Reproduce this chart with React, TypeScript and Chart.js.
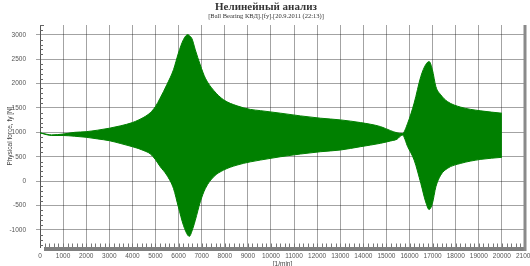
import { useEffect, useRef } from "react";
import { Chart, registerables } from "chart.js";
Chart.register(...registerables);

const TITLE = "Нелинейный анализ";
const SUBTITLE = "[Ball Bearing КВД].[fy].[20.9.2011 (22:13)]";
const Y_TITLE = "Physical force, fy [N]";
const X_TITLE = "[1/min]";

// rotor speed [1/min]
const rpm = [
  0, 300, 500, 1000, 1500, 2000, 2500, 3000, 3500, 4000, 4250, 4500, 4770, 5000, 5200, 5490, 5780, 5990,
  6210, 6400, 6470, 6580, 6725, 6940, 7160, 7520, 7950, 8530, 9110, 9540, 10410, 11280, 12150,
  13010, 13880, 14750, 15180, 15460, 15690, 15920, 16200, 16490, 16700, 16850, 16990, 17140,
  17350, 17640, 18220, 19090, 20000,
];
// upper envelope of fy [N]
const upper = [
  990, 960, 948, 965, 1000, 1014, 1045, 1084, 1135, 1200, 1250, 1310, 1400, 1530, 1700, 1975, 2284, 2620,
  2900, 3004, 2980, 2920, 2690, 2380, 2110, 1860, 1667, 1543, 1470, 1445, 1393, 1337, 1290,
  1255, 1200, 1117, 1035, 990, 975, 1187, 1599, 2146, 2387, 2450, 2284, 1940,
  1770, 1632, 1516, 1440, 1393,
];
// lower envelope of fy [N]
const lower = [
  990, 950, 935, 935, 920, 899, 865, 829, 770, 706, 670, 625, 560, 440, 300, 123, -151, -528,
  -905, -1111, -1132, -1022, -802, -425, -151, 89, 226, 329, 395, 432, 500, 556, 603,
  638, 706, 776, 823, 860, 945, 706, 432, -47, -426, -582, -459, -117,
  123, 261, 364, 446, 488,
];

const xTicks = [0, 1000, 2000, 3000, 4000, 5000, 6000, 7000, 8000, 9000, 10000, 11000, 12000, 13000, 14000, 15000, 16000, 17000, 18000, 19000, 20000, 21000];
const yTicks = [-1000, -500, 0, 500, 1000, 1500, 2000, 2500, 3000];

const GREEN = "rgb(0,128,0)";

const decor = {
  id: "decor",
  afterDraw(chart: any) {
    const { ctx, chartArea } = chart;
    const x = chart.scales.x;
    const y = chart.scales.y;
    ctx.save();
    // titles
    ctx.fillStyle = "#333";
    ctx.textAlign = "center";
    ctx.textBaseline = "middle";
    ctx.font = 'bold 11px "Liberation Serif"';
    ctx.fillText(TITLE, 266, 7);
    ctx.font = '6.5px "Liberation Serif"';
    ctx.fillText(SUBTITLE, 266, 16);

    // y minor ticks
    ctx.strokeStyle = "#666";
    ctx.lineWidth = 1;
    ctx.beginPath();
    for (let v = -1300; v <= 3200; v += 100) {
      if (v % 500 === 0) continue;
      const py = Math.round(y.getPixelForValue(v)) + 0.5;
      ctx.moveTo(chartArea.left, py);
      ctx.lineTo(chartArea.left + 3, py);
    }
    ctx.moveTo(chartArea.left, chartArea.top + 0.5);
    ctx.lineTo(chartArea.left + 4, chartArea.top + 0.5);
    ctx.stroke();

    // bottom band with hatch ticks
    ctx.fillStyle = "#7f7f7f";
    ctx.fillRect(chartArea.left + 4, chartArea.bottom, chartArea.right - chartArea.left - 4, 4);
    ctx.strokeStyle = "#777";
    ctx.beginPath();
    for (let v = 200; v < 21000; v += 200) {
      const px = Math.round(x.getPixelForValue(v)) + 0.5;
      ctx.moveTo(px, chartArea.bottom - 3.5);
      ctx.lineTo(px, chartArea.bottom);
    }
    ctx.stroke();

    // right bar
    ctx.fillStyle = "#8a8a8a";
    ctx.fillRect(chartArea.right - 1.5, chartArea.top, 3, chartArea.bottom - chartArea.top + 4);
    ctx.restore();
  },
};

export default function App() {
  const ref = useRef<HTMLCanvasElement>(null);
  useEffect(() => {
    const canvas = ref.current;
    if (!canvas) return;
    const chart = new Chart(canvas, {
      type: "line",
      data: {
        datasets: [
          {
            data: rpm.map((r, i) => ({ x: r, y: upper[i] })),
            borderColor: GREEN,
            backgroundColor: GREEN,
            borderWidth: 1,
            pointRadius: 0,
            fill: "+1",
            cubicInterpolationMode: "monotone",
          },
          {
            data: rpm.map((r, i) => ({ x: r, y: lower[i] })),
            borderColor: GREEN,
            backgroundColor: GREEN,
            borderWidth: 1,
            pointRadius: 0,
            fill: false,
            cubicInterpolationMode: "monotone",
          },
        ],
      },
      options: {
        responsive: false,
        animation: false,
        layout: { padding: { left: 0, right: 5, top: 25, bottom: 0 } },
        plugins: { legend: { display: false }, tooltip: { enabled: false } },
        scales: {
          x: {
            type: "linear",
            min: 0,
            max: 21000,
            afterBuildTicks: (s: any) => {
              s.ticks = xTicks.map((v) => ({ value: v }));
            },
            afterFit: (s: any) => {
              s.height = 19;
              s.paddingLeft = 0;
              s.paddingRight = 0;
            },
            grid: { color: "rgba(0,0,0,0.36)", lineWidth: 1, drawTicks: false },
            border: { display: false },
            ticks: {
              autoSkip: false,
              maxRotation: 0,
              padding: 5,
              color: "#555",
              font: { family: '"Liberation Sans", Arial', size: 6.5 },
              callback: (v: any) => String(v),
            },
            title: {
              display: true,
              text: X_TITLE,
              color: "#444",
              font: { family: '"Liberation Sans", Arial', size: 6.5 },
              padding: { top: 0, bottom: -2 },
            },
          },
          y: {
            type: "linear",
            min: -1350,
            max: 3200,
            afterBuildTicks: (s: any) => {
              s.ticks = yTicks.map((v) => ({ value: v }));
            },
            afterFit: (s: any) => {
              s.width = 40;
              s.paddingTop = 0;
              s.paddingBottom = 0;
            },
            grid: { color: "rgba(0,0,0,0.36)", lineWidth: 1, tickLength: 4 },
            border: { display: true, color: "#555", width: 1 },
            ticks: {
              padding: 10,
              color: "#555",
              font: { family: '"Liberation Sans", Arial', size: 6.5 },
              callback: (v: any) => String(v),
            },
            title: {
              display: true,
              text: Y_TITLE,
              color: "#444",
              font: { family: '"Liberation Sans", Arial', size: 6.5 },
              padding: { top: 6, bottom: 0 },
            },
          },
        },
      },
      plugins: [decor],
    });
    return () => chart.destroy();
  }, []);
  return (
    <div style={{ position: "absolute", left: 0, top: 0, width: 530, height: 266 }}>
      <canvas ref={ref} width={530} height={266} style={{ display: "block" }} />
    </div>
  );
}
